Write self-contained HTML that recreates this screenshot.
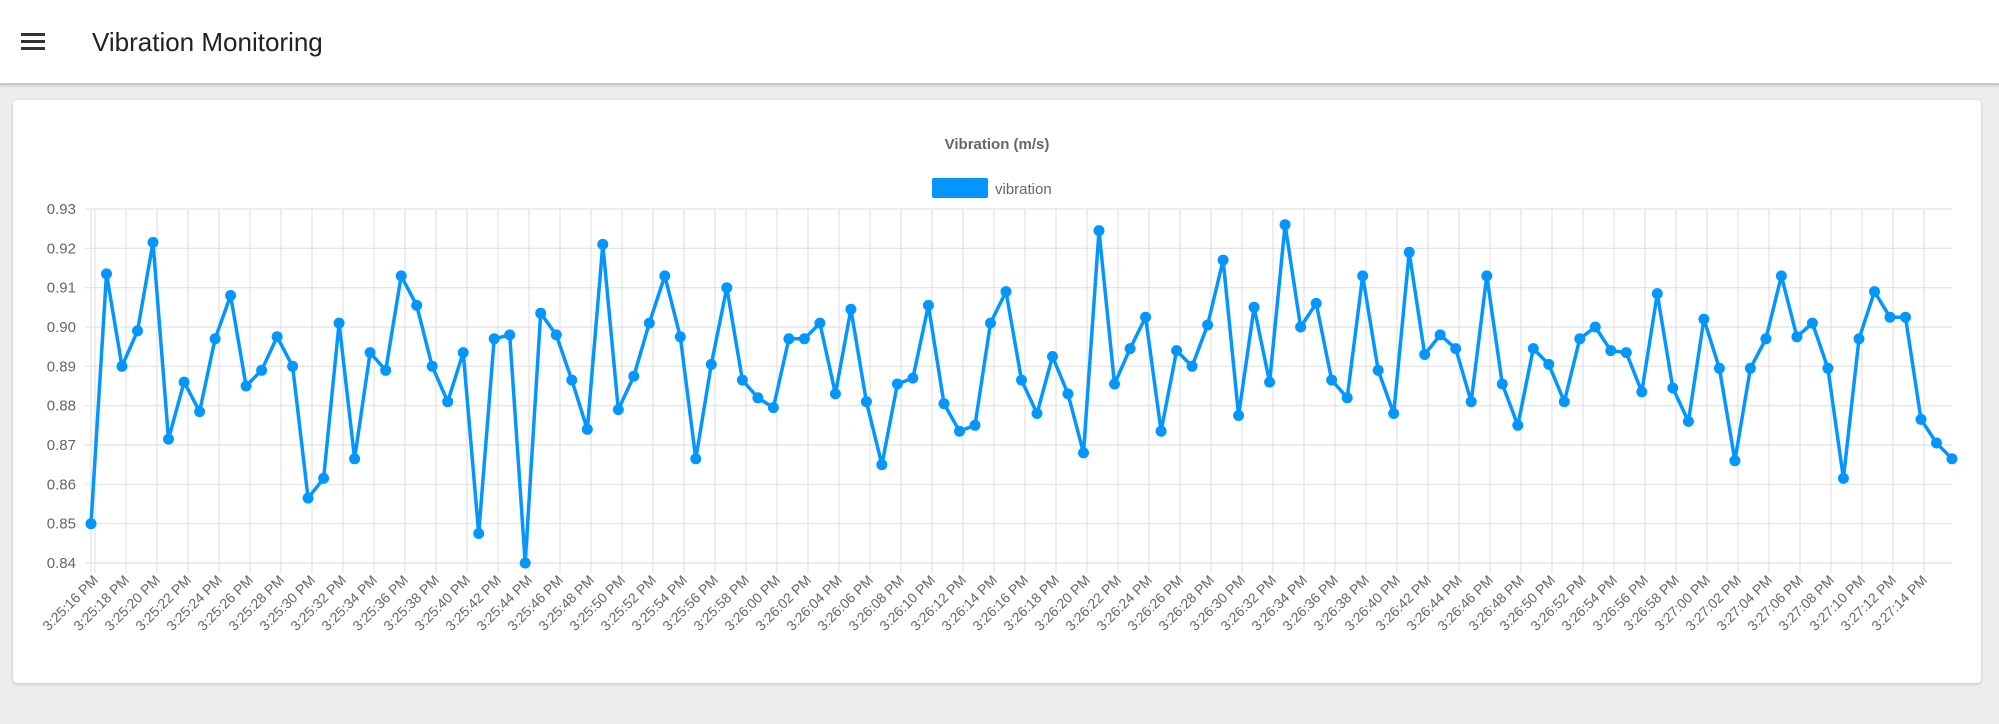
<!DOCTYPE html>
<html><head><meta charset="utf-8"><style>
html,body{margin:0;padding:0;width:1999px;height:724px;background:#eeeeee;overflow:hidden;font-family:"Liberation Sans",sans-serif}
.hdr{position:absolute;left:0;top:0;width:1999px;height:83px;background:#fff;border-bottom:2px solid #c8c8c8;box-shadow:0 1px 3px rgba(0,0,0,.15)}
.card{position:absolute;left:13px;top:100px;width:1968px;height:583px;background:#fff;border-radius:4px;box-shadow:0 1px 3px rgba(0,0,0,.2)}
svg{position:absolute;left:0;top:0}
</style></head><body>
<div class="hdr">
<div style="position:absolute;left:21px;top:33px;width:24px;height:3px;background:#333"></div>
<div style="position:absolute;left:21px;top:40px;width:24px;height:3px;background:#333"></div>
<div style="position:absolute;left:21px;top:47px;width:24px;height:3px;background:#333"></div>
<div style="position:absolute;left:92px;top:27px;font-size:26px;color:#222">Vibration Monitoring</div>
</div>
<div class="card"></div>
<svg id="s" width="1999" height="724" xmlns="http://www.w3.org/2000/svg"></svg>
<script>
var d=[.850,.9135,.890,.899,.9215,.8715,.886,.8785,.897,.908,.885,.889,.8975,.890,.8565,.8615,.901,.8665,.8935,.889,.913,.9055,.890,.881,.8935,.8475,.897,.898,.840,.9035,.898,.8865,.874,.921,.879,.8875,.901,.913,.8975,.8665,.8905,.910,.8865,.882,.8795,.897,.897,.901,.883,.9045,.881,.865,.8855,.887,.9055,.8805,.8735,.875,.901,.909,.8865,.878,.8925,.883,.868,.9245,.8855,.8945,.9025,.8735,.894,.890,.9005,.917,.8775,.905,.886,.926,.900,.906,.8865,.882,.913,.889,.878,.919,.893,.898,.8945,.881,.913,.8855,.875,.8945,.8905,.881,.897,.900,.894,.8935,.8835,.9085,.8845,.876,.902,.8895,.866,.8895,.897,.913,.8975,.901,.8895,.8615,.897,.909,.9025,.9025,.8765,.8705,.8665];
var s='',L=91,R=1952,T=209,B=563;
function Y(v){return T+(0.93-v)/0.09*(B-T);}
for(var k=0;k<=9;k++){var v=0.93-k*0.01,y=Y(v).toFixed(1);
s+='<line x1="'+(L-6)+'" x2="'+R+'" y1="'+y+'" y2="'+y+'" stroke="#e2e2e2" stroke-width="1.2"/>';
s+='<text x="'+(L-15)+'" y="'+(+y+5)+'" text-anchor="end" font-size="15" fill="#666">'+v.toFixed(2)+'</text>';}
s+='<line x1="'+L+'" x2="'+L+'" y1="'+T+'" y2="'+(B+10)+'" stroke="#e2e2e2" stroke-width="1.2"/>';
for(var i=0;i<60;i++){var x=(95+i*31.0).toFixed(1);
s+='<line x1="'+x+'" x2="'+x+'" y1="'+T+'" y2="'+(B+10)+'" stroke="#e2e2e2" stroke-width="1.2"/>';
var sec=16+i*2,m=25+Math.floor(sec/60);sec%=60;
var lab='3:'+m+':'+(sec<10?'0':'')+sec+' PM';
s+='<text transform="translate('+(+x+4)+',581) rotate(-45)" text-anchor="end" font-size="14" fill="#666">'+lab+'</text>';}
var st=(R-L)/(d.length-1),p='',c='';
for(var i=0;i<d.length;i++){var x=(L+i*st).toFixed(1),y=Y(d[i]).toFixed(1);p+=(i?'L':'M')+x+' '+y;c+='<circle cx="'+x+'" cy="'+y+'" r="5.5" fill="#0496ff"/>';}
s+='<path d="'+p+'" fill="none" stroke="#0496ff" stroke-width="3.5" stroke-linejoin="round"/>'+c;
s+='<text x="997" y="149" text-anchor="middle" font-size="15" font-weight="bold" fill="#666">Vibration (m/s)</text>';
s+='<rect x="932" y="178" width="56" height="20" rx="2" fill="#0496ff"/>';
s+='<text x="995" y="194" font-size="15" fill="#666">vibration</text>';
document.getElementById('s').innerHTML=s;
</script>
</body></html>
